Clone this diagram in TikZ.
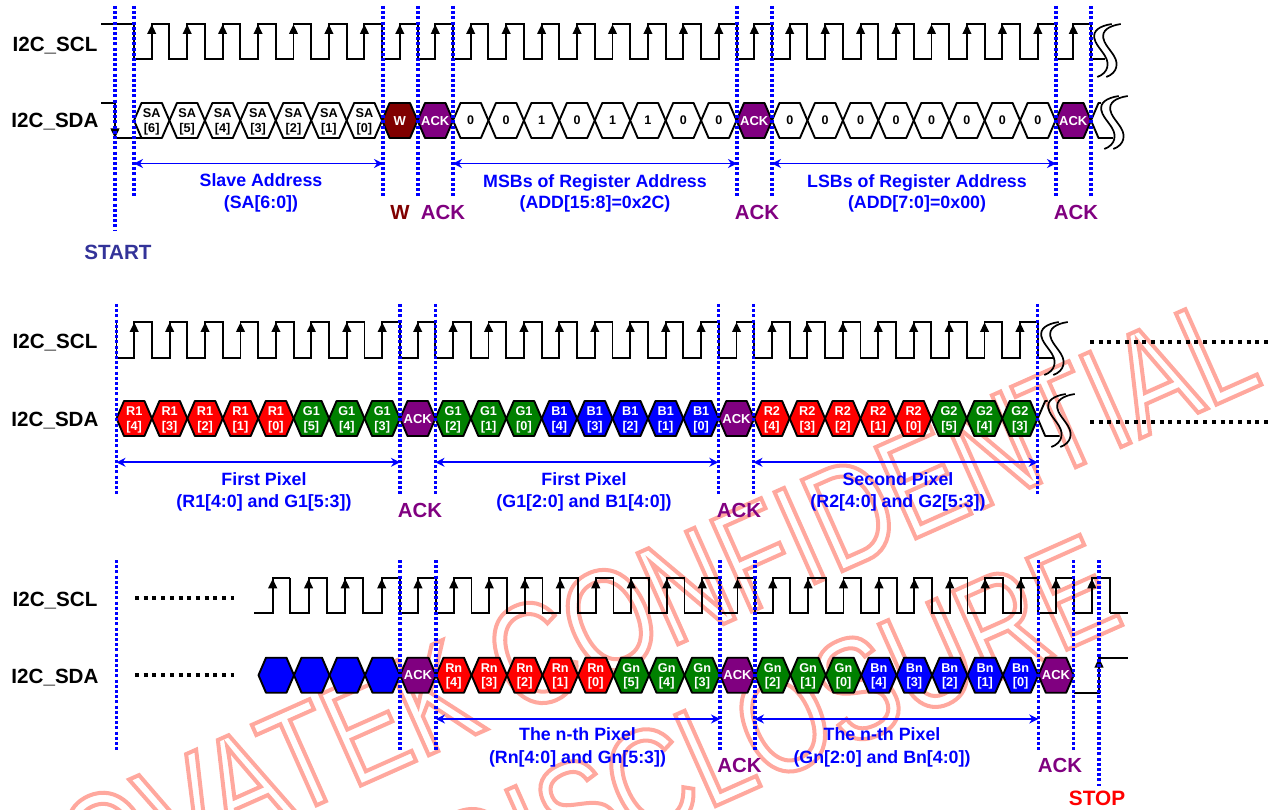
\documentclass[tikz,border=0pt]{standalone}
\usepackage{fontspec}
\setmainfont{Liberation Sans}
\usetikzlibrary{arrows.meta}
\font\wmfont="Liberation Sans:extend=0.77" at 145pt
\definecolor{hred}{RGB}{255,0,0}
\definecolor{hgreen}{RGB}{0,128,0}
\definecolor{hblue}{RGB}{0,0,255}
\definecolor{hpurple}{RGB}{128,0,128}
\definecolor{hmaroon}{RGB}{128,0,0}
\definecolor{hstart}{RGB}{51,51,153}
\newcount\nid
\newcommand\nextid{\global\advance\nid by 1 }
\tikzset{
  sig/.style={line width=1.9pt,black,line join=miter},
  hexline/.style={line width=1.9pt,black,line join=round},
  vdot/.style={line width=3.3pt,hblue,dash pattern=on 3pt off 2.2pt},
  kdot/.style={line width=4.6pt,black,dash pattern=on 4pt off 4.7pt},
  spanarrow/.style={line width=1.9pt,hblue,{Stealth[length=9pt,width=9pt]}-{Stealth[length=9pt,width=9pt]}},
  txt/.style={inner sep=0pt,anchor=base,font=\bfseries},
}
% text line centred on x and on the cap height around y
\newcommand\tx[5]{\nextid
  \pgfmathsetmacro\ybase{#4+0.36*#2}
  \node[txt,text=#1] (n\the\nid) at (#3,\ybase) {\fontsize{#2}{#2}\selectfont #5};}
\newcommand\hexa[4]{\draw[hexline,fill=#4] (#1,#3) -- ({#1+7.5},{#3-17.5}) -- ({#2-7.5},{#3-17.5}) -- (#2,#3) -- ({#2-7.5},{#3+17.5}) -- ({#1+7.5},{#3+17.5}) -- cycle;}
\newcommand\solo[6]{% x0 x1 yc fill textcolor label
  \hexa{#1}{#2}{#3}{#4}
  \pgfmathsetmacro\xc{(#1+#2)/2}
  \tx{#5}{13}{\xc}{#3}{#6}}
\newcommand\bits[5]{% x0 p yc textcolor list
  \foreach \c/\a/\b [count=\i from 0] in {#5}{
    \pgfmathsetmacro\xa{#1+\i*#2}
    \pgfmathsetmacro\xb{\xa+#2}
    \pgfmathsetmacro\xm{\xa+#2/2}
    \pgfmathsetmacro\ya{#3-7.2}
    \pgfmathsetmacro\yb{#3+7.2}
    \hexa{\xa}{\xb}{#3}{\c}
    \tx{#4}{12.7}{\xm}{\ya}{\a}
    \tx{#4}{12.7}{\xm}{\yb}{[\b]}
  }}
\newcommand\digits[3]{% x0 yc list
  \foreach \v [count=\i from 0] in {#3}{
    \pgfmathsetmacro\xa{#1+\i*35.444}
    \pgfmathsetmacro\xb{\xa+35.444}
    \pgfmathsetmacro\xm{\xa+17.72}
    \hexa{\xa}{\xb}{#2}{white}
    \tx{black}{12.5}{\xm}{#2}{\v}
  }}
\newcommand\clk[5]{% x0 n p hi lo
  \foreach \k in {1,...,#2}{
    \pgfmathsetmacro\xf{#1+(\k-1)*#3}
    \pgfmathsetmacro\xr{\xf+#3/2}
    \pgfmathsetmacro\xe{\xf+#3}
    \draw[sig] (\xf,#4) -- (\xf,#5) -- (\xr,#5) -- (\xr,#4) -- (\xe,#4) -- (\xe,#5);
    \fill (\xr,{#4+0.5}) -- ({\xr+4.6},{#4+10}) -- ({\xr-4.6},{#4+10}) -- cycle;
  }}
\newcommand\vl[3]{\nextid
  \coordinate (t\the\nid) at (#1,#2);
  \coordinate (b\the\nid) at (#1,#3);
  \draw[vdot] (t\the\nid) -- (b\the\nid);}
\newcommand\spanarr[3]{\nextid
  \coordinate (l\the\nid) at (#1,#3);
  \coordinate (r\the\nid) at (#2,#3);
  \draw[spanarrow] (l\the\nid) -- (r\the\nid);}
\newcommand\kd[3]{\nextid
  \coordinate (l\the\nid) at (#1,#3);
  \coordinate (r\the\nid) at (#2,#3);
  \draw[kdot] (l\the\nid) -- (r\the\nid);}
\newcommand\squig[3]{% x top dx
  \foreach \o in {0,9}{
    \begin{scope}[shift={({#1+#3+\o},#2)}]
    \draw[line width=1.7pt] (20.7,0) .. controls (8,2) and (2,7) .. (3.3,14) .. controls (5,24) and (19,32) .. (16.3,43) .. controls (15.5,47) and (12,51) .. (6.3,53);
    \end{scope}
  }}
\newcommand\stub[2]{% x yc
  \draw[hexline] ({#1+10},{#2-17.5}) -- ({#1+7.5},{#2-17.5}) -- (#1,#2) -- ({#1+7.5},{#2+17.5}) -- ({#1+22},{#2+17.5});}
\begin{document}
\begin{tikzpicture}[x=1pt,y=-1pt]
\useasboundingbox (0,0) rectangle (1270,810);
\clip (0,0) rectangle (1270,810);
% watermark
\node[inner sep=0pt,anchor=base east,rotate=24] (wma) at (1265,383)
  {\wmfont\special{pdf:code 1 Tr 4 w 1 .66 .62 RG}NOVATEK CONFIDENTIAL\special{pdf:code 0 Tr 1 w}};
\node[inner sep=0pt,anchor=base east,rotate=24] (wmb) at (1127,623)
  {\wmfont\special{pdf:code 1 Tr 4 w 1 .66 .62 RG}DISCLOSURE\special{pdf:code 0 Tr 1 w}};

% ---------- row 1
\tx{black}{20.6}{55}{44}{I2C\_SCL}
\tx{black}{20.6}{55}{120.5}{I2C\_SDA}
\draw[sig] (101,24) -- (134,24);
\clk{134}{27}{35.444}{24}{59}
\draw[sig] (1091,59) -- (1105,59);
\squig{1091}{24}{0}
\draw[sig] (101,103) -- (115,103) -- (115,138) -- (143,138);
\fill (115,138) -- (119.6,128.5) -- (110.4,128.5) -- cycle;
\bits{134}{35.444}{120.5}{black}{white/SA/6,white/SA/5,white/SA/4,white/SA/3,white/SA/2,white/SA/1,white/SA/0}
\solo{382.1}{417.5}{120.5}{hmaroon}{white}{W}
\solo{417.5}{453}{120.5}{hpurple}{white}{ACK}
\digits{453}{120.5}{0,0,1,0,1,1,0,0}
\solo{736.5}{772}{120.5}{hpurple}{white}{ACK}
\digits{772}{120.5}{0,0,0,0,0,0,0,0}
\solo{1055.6}{1091}{120.5}{hpurple}{white}{ACK}
\stub{1091}{120.5}
\squig{1091}{96}{7}
\vl{115}{6}{231}
\foreach \x in {134,383,418,453,737,772,1056,1091}{\vl{\x}{6}{197}}
\spanarr{134}{383}{163.5}
\spanarr{453}{737}{163.5}
\spanarr{772}{1056}{163.5}
\tx{hblue}{17.8}{261}{180}{Slave Address}
\tx{hblue}{17.8}{261}{202}{(SA[6:0])}
\tx{hblue}{17.8}{595}{181}{MSBs of Register Address}
\tx{hblue}{17.8}{595}{202}{(ADD[15:8]=0x2C)}
\tx{hblue}{17.8}{917}{181}{LSBs of Register Address}
\tx{hblue}{17.8}{917}{202}{(ADD[7:0]=0x00)}
\tx{hmaroon}{20.4}{400}{212}{W}
\tx{hpurple}{20.4}{443}{212}{ACK}
\tx{hpurple}{20.4}{757}{212}{ACK}
\tx{hpurple}{20.4}{1076}{212}{ACK}
\tx{hstart}{20.6}{118}{252}{START}

% ---------- row 2
\tx{black}{20.6}{55}{341.5}{I2C\_SCL}
\tx{black}{20.6}{55}{419}{I2C\_SDA}
\clk{116.5}{26}{35.43}{322}{358}
\draw[sig] (1037.7,358) -- (1053,358);
\squig{1038}{322}{0}
\bits{116.5}{35.43}{418.5}{white}{hred/R1/4,hred/R1/3,hred/R1/2,hred/R1/1,hred/R1/0,hgreen/G1/5,hgreen/G1/4,hgreen/G1/3}
\solo{400}{435.4}{418.5}{hpurple}{white}{ACK}
\bits{435.4}{35.43}{418.5}{white}{hgreen/G1/2,hgreen/G1/1,hgreen/G1/0,hblue/B1/4,hblue/B1/3,hblue/B1/2,hblue/B1/1,hblue/B1/0}
\solo{718.8}{754.2}{418.5}{hpurple}{white}{ACK}
\bits{754.2}{35.43}{418.5}{white}{hred/R2/4,hred/R2/3,hred/R2/2,hred/R2/1,hred/R2/0,hgreen/G2/5,hgreen/G2/4,hgreen/G2/3}
\stub{1037.7}{418.5}
\squig{1038}{394}{7}
\foreach \x in {116.5,400,435.5,718.3,753.5,1037.7}{\vl{\x}{304}{495}}
\kd{1090}{1270}{342}
\kd{1090}{1270}{422}
\spanarr{116.5}{400}{462.3}
\spanarr{435.5}{718.3}{462.3}
\spanarr{753.5}{1037.7}{462.3}
\tx{hblue}{17.8}{264}{479}{First Pixel}
\tx{hblue}{17.8}{264}{501.5}{(R1[4:0] and G1[5:3])}
\tx{hblue}{17.8}{584}{479}{First Pixel}
\tx{hblue}{17.8}{584}{501.5}{(G1[2:0] and B1[4:0])}
\tx{hblue}{17.8}{898}{479}{Second Pixel}
\tx{hblue}{17.8}{898}{501.5}{(R2[4:0] and G2[5:3])}
\tx{hpurple}{20.4}{420}{510.5}{ACK}
\tx{hpurple}{20.4}{739}{510.5}{ACK}

% ---------- row 3
\tx{black}{20.6}{55}{599}{I2C\_SCL}
\tx{black}{20.6}{55}{676}{I2C\_SDA}
\kd{135}{234}{598}
\kd{135}{234}{675}
\draw[sig] (254,613.3) -- (272.7,613.3) -- (272.7,578.3) -- (290.3,578.3);
\fill (272.7,578.8) -- (277.3,588.3) -- (268.1,588.3) -- cycle;
\clk{290.3}{3}{36.57}{578.3}{613.3}
\clk{400}{1}{36}{578.3}{613.3}
\clk{436}{8}{35.5}{578.3}{613.3}
\clk{720}{1}{35}{578.3}{613.3}
\clk{755}{8}{35.41}{578.3}{613.3}
\clk{1038.3}{1}{35.4}{578.3}{613.3}
\clk{1073.7}{1}{36.3}{578.3}{613.3}
\draw[sig] (1110,613.3) -- (1127.7,613.3);
\foreach \xa/\xb in {258.5/294,294/329.5,329.5/365,365/400}{\hexa{\xa}{\xb}{675.2}{hblue}}
\solo{400}{436}{675.2}{hpurple}{white}{ACK}
\bits{436}{35.5}{675.2}{white}{hred/Rn/4,hred/Rn/3,hred/Rn/2,hred/Rn/1,hred/Rn/0,hgreen/Gn/5,hgreen/Gn/4,hgreen/Gn/3}
\solo{720}{755}{675.2}{hpurple}{white}{ACK}
\bits{755}{35.41}{675.2}{white}{hgreen/Gn/2,hgreen/Gn/1,hgreen/Gn/0,hblue/Bn/4,hblue/Bn/3,hblue/Bn/2,hblue/Bn/1,hblue/Bn/0}
\solo{1038.3}{1073.7}{675.2}{hpurple}{white}{ACK}
\draw[sig] (1073.7,692.7) -- (1099,692.7) -- (1099,658) -- (1128,658);
\fill (1099,658) -- (1103.6,667.5) -- (1094.4,667.5) -- cycle;
\foreach \x in {116.5,400,436,720,755,1038.3,1073.7}{\vl{\x}{560}{751}}
\vl{1099}{560}{786}
\spanarr{436}{720}{719}
\spanarr{755}{1038.3}{719}
\tx{hblue}{17.8}{577.5}{734.5}{The n-th Pixel}
\tx{hblue}{17.8}{577.5}{757}{(Rn[4:0] and Gn[5:3])}
\tx{hblue}{17.8}{882}{734.5}{The n-th Pixel}
\tx{hblue}{17.8}{882}{757}{(Gn[2:0] and Bn[4:0])}
\tx{hpurple}{20.4}{739.5}{765}{ACK}
\tx{hpurple}{20.4}{1060}{765}{ACK}
\tx{hred}{20.8}{1097}{798}{STOP}
\end{tikzpicture}
\end{document}
